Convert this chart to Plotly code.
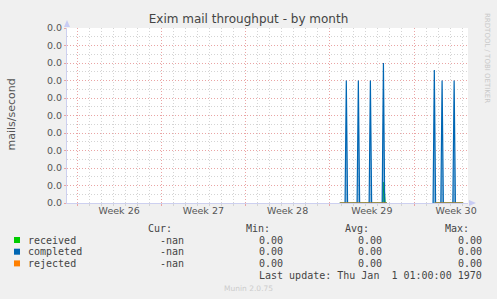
import plotly.graph_objects as go

# ---------------- data ----------------
completed_times = [
    "2024-07-15 20:00", "2024-07-16 06:30", "2024-07-16 09:00", "2024-07-16 11:30",
    "2024-07-17 06:30", "2024-07-17 09:00", "2024-07-17 11:30",
    "2024-07-18 06:30", "2024-07-18 09:00", "2024-07-18 11:30",
    "2024-07-19 08:30", "2024-07-19 11:00", "2024-07-19 13:30", "2024-07-19 18:00",
    "2024-07-21 00:00",
    "2024-07-23 14:00", "2024-07-23 16:30", "2024-07-23 19:00",
    "2024-07-24 05:30", "2024-07-24 08:00", "2024-07-24 10:30",
    "2024-07-25 05:30", "2024-07-25 08:00", "2024-07-25 10:30", "2024-07-26 02:00",
]
completed_values = [
    0, 0, 0.0070, 0,
    0, 0.0070, 0,
    0, 0.0070, 0,
    0, 0.0080, 0, 0,
    None,
    0, 0.0076, 0,
    0, 0.0070, 0,
    0, 0.0070, 0, 0,
]

received_times = ["2024-07-15 20:00", "2024-07-19 10:00", "2024-07-19 12:00", "2024-07-19 14:30",
                  "2024-07-19 18:00", "2024-07-21 00:00", "2024-07-23 17:00", "2024-07-26 02:00"]
received_values = [0, 0, 0.0012, 0, 0, None, 0, 0]

rejected_times = ["2024-07-15 20:00", "2024-07-19 18:00", "2024-07-21 00:00",
                  "2024-07-23 17:30", "2024-07-26 02:00"]
rejected_values = [0, 0, None, 0, 0]

week_starts = ["2024-06-24", "2024-07-01", "2024-07-08", "2024-07-15", "2024-07-22"]
week_centers = ["2024-06-27 12:00", "2024-07-04 12:00", "2024-07-11 12:00",
                "2024-07-18 12:00", "2024-07-25 12:00"]
week_labels = ["Week 26", "Week 27", "Week 28", "Week 29", "Week 30"]

x_range = ["2024-06-23 04:00", "2024-07-26 11:40"]
y_ticks = [i * 0.001 for i in range(11)]

series_names = ["received", "completed", "rejected"]
series_colors = ["#00cc00", "#0066b3", "#ff8000"]
cur_vals = ["-nan", "-nan", "-nan"]
min_vals = ["0.00", "0.00", "0.00"]
avg_vals = ["0.00", "0.00", "0.00"]
max_vals = ["0.00", "0.00", "0.00"]

# ---------------- layout geometry (pixels) ----------------
W, H = 497, 299
L, R, T, B = 67, 468, 28, 203
PW, PH = R - L, B - T


def px(x):
    return (x - L) / PW


def py(y):
    return (B - y) / PH


fig = go.Figure()
fig.add_trace(go.Scatter(x=received_times, y=received_values, mode="lines",
                         line=dict(color=series_colors[0], width=1),
                         fill="tozeroy", fillcolor="rgba(0,204,0,0.5)",
                         hoverinfo="skip", showlegend=False))
fig.add_trace(go.Scatter(x=completed_times, y=completed_values, mode="lines",
                         line=dict(color=series_colors[1], width=1.2),
                         fill="tozeroy", fillcolor="rgba(0,102,179,0.45)",
                         hoverinfo="skip", showlegend=False))
fig.add_trace(go.Scatter(x=rejected_times, y=rejected_values, mode="lines",
                         line=dict(color=series_colors[2], width=1),
                         hoverinfo="skip", showlegend=False, cliponaxis=False))
fig.add_trace(go.Scatter(x=week_centers, y=[None] * len(week_centers), xaxis="x2",
                         mode="lines", hoverinfo="skip", showlegend=False))

major = "#eaa4a4"
minor = "#d4d4d4"
axis_col = "#cdd0f0"
text_col = "#555555"

fig.update_layout(
    width=W, height=H,
    margin=dict(l=L, r=W - R, t=T, b=H - B),
    paper_bgcolor="#f0f0f0", plot_bgcolor="#ffffff",
    title=dict(text="Exim mail throughput - by month", x=0.5, xref="container",
               y=1 - 19 / H, yref="container", yanchor="middle", xanchor="center",
               font=dict(family="DejaVu Sans", size=12, color="#444444")),
    xaxis=dict(type="date", range=x_range, tickmode="linear", tick0=week_starts[0],
               dtick=7 * 86400000, showticklabels=False,
               showgrid=True, gridcolor=major, griddash="1px,2px", gridwidth=1,
               ticks="outside", ticklen=2, tickcolor=major,
               minor=dict(tick0=week_starts[0], dtick=86400000, showgrid=True,
                          gridcolor=minor, griddash="1px,2px", gridwidth=1,
                          ticks="outside", ticklen=2, tickcolor=minor),
               showline=True, linecolor=axis_col, linewidth=1, zeroline=False),
    xaxis2=dict(type="date", overlaying="x", matches="x", side="bottom",
                tickmode="array", tickvals=week_centers, ticktext=week_labels,
                showgrid=False, ticks="", showline=False, zeroline=False,
                tickfont=dict(family="DejaVu Sans", size=9.5, color=text_col)),
    yaxis=dict(range=[0, 0.010], tickmode="array", tickvals=y_ticks, tickformat=".1f",
               showgrid=True, gridcolor=major, griddash="1px,2px", gridwidth=1,
               ticks="outside", ticklen=2, tickcolor=major,
               minor=dict(dtick=0.0005, showgrid=True, gridcolor=minor,
                          griddash="1px,2px", gridwidth=1),
               tickfont=dict(family="DejaVu Sans", size=9.5, color=text_col),
               showline=True, linecolor=axis_col, linewidth=1, zeroline=False),
)

annotations = []
# y axis title
annotations.append(dict(text="mails/second", x=px(11), y=py(114.5), xref="paper", yref="paper",
                        textangle=-90, showarrow=False, xanchor="center", yanchor="middle",
                        font=dict(family="DejaVu Sans", size=11, color=text_col)))
# rrdtool credit
annotations.append(dict(text="RRDTOOL / TOBI OETIKER", x=px(487), y=py(58), xref="paper",
                        yref="paper", textangle=90, showarrow=False,
                        xanchor="center", yanchor="middle",
                        font=dict(family="DejaVu Sans", size=7, color="#c8c8c8")))
# munin version
annotations.append(dict(text="Munin 2.0.75", x=px(248), y=py(288), xref="paper", yref="paper",
                        showarrow=False, xanchor="center", yanchor="middle",
                        font=dict(family="DejaVu Sans", size=7.5, color="#cccccc")))

mono = dict(family="DejaVu Sans Mono", size=10, color="#444444")


def txt(s, x, y, anchor):
    annotations.append(dict(text=s, x=px(x), y=py(y), xref="paper", yref="paper",
                            showarrow=False, xanchor=anchor, yanchor="middle", font=mono))


header_y = 228
for s, xr in [("Cur:", 174), ("Min:", 272), ("Avg:", 371), ("Max:", 471)]:
    txt(s, xr, header_y, "right")

row_y = [240, 251.7, 263.4]
shapes = []
for i, name in enumerate(series_names):
    yy = row_y[i]
    txt(name, 26, yy, "left")
    txt(cur_vals[i], 186, yy, "right")
    txt(min_vals[i], 285, yy, "right")
    txt(avg_vals[i], 384, yy, "right")
    txt(max_vals[i], 484, yy, "right")
    shapes.append(dict(type="rect", xref="paper", yref="paper",
                       x0=px(14), x1=px(20), y0=py(yy + 3), y1=py(yy - 3),
                       fillcolor=series_colors[i], line=dict(width=0)))

txt("Last update: Thu Jan\u00a0 1 01:00:00 1970", 484, 275.5, "right")

# axis arrows
ya = f"M {px(64)} {py(27)} L {px(70)} {py(27)} L {px(67)} {py(20)} Z"
xa = f"M {px(469)} {py(200)} L {px(469)} {py(206)} L {px(476)} {py(203)} Z"
for p in (ya, xa):
    shapes.append(dict(type="path", path=p, xref="paper", yref="paper",
                       fillcolor="#c8ccf4", line=dict(width=0)))

fig.update_layout(annotations=annotations, shapes=shapes)
fig.write_html("out.html")
